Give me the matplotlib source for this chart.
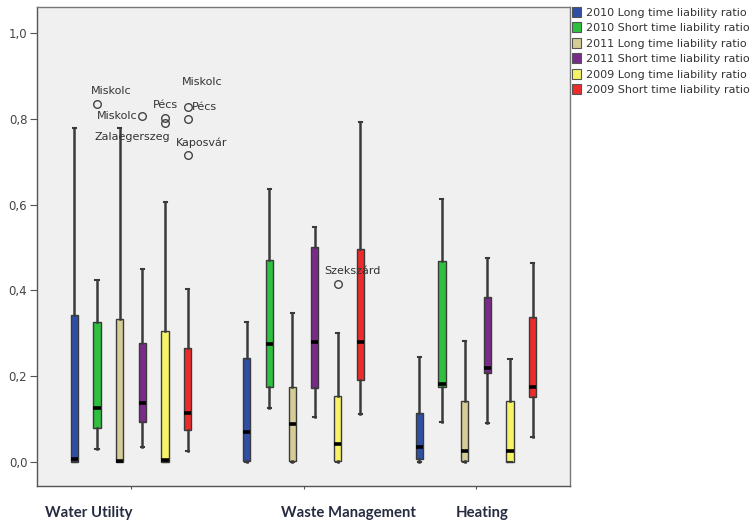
import matplotlib
matplotlib.use("Agg")
import matplotlib.pyplot as plt
from matplotlib.patches import Patch
import numpy as np

groups = ["Water Utility", "Waste Management", "Heating"]
series = ["2010 Long time liability ratio", "2010 Short time liability ratio",
          "2011 Long time liability ratio", "2011 Short time liability ratio",
          "2009 Long time liability ratio", "2009 Short time liability ratio"]
colors = ["#2F4FA6", "#2EC03E", "#D5CC96", "#7A2A88", "#F6F466", "#EE2B2B"]

# per series, one value per group (Water, Waste, Heating)
whis_lo = [[0.0, 0.0, 0.0], [0.030, 0.126, 0.093], [0.0, 0.0, 0.0],
           [0.035, 0.105, 0.091], [0.0, 0.0, 0.0], [0.026, 0.112, 0.058]]
q1 = [[0.0, 0.003, 0.008], [0.079, 0.175, 0.175], [0.0, 0.002, 0.002],
      [0.093, 0.172, 0.207], [0.0, 0.002, 0.0], [0.075, 0.191, 0.152]]
med = [[0.008, 0.070, 0.035], [0.126, 0.275, 0.182], [0.003, 0.089, 0.026],
       [0.137, 0.280, 0.219], [0.004, 0.042, 0.026], [0.114, 0.280, 0.175]]
q3 = [[0.343, 0.242, 0.114], [0.327, 0.471, 0.469], [0.333, 0.175, 0.142],
      [0.277, 0.501, 0.385], [0.305, 0.154, 0.142], [0.266, 0.496, 0.338]]
whis_hi = [[0.780, 0.326, 0.245], [0.424, 0.636, 0.613], [0.780, 0.347, 0.282],
           [0.450, 0.548, 0.475], [0.606, 0.301, 0.240], [0.403, 0.793, 0.464]]

# outliers: (series, group, value)
outliers = [(1, 0, 0.834), (3, 0, 0.806), (4, 0, 0.790), (4, 0, 0.801),
            (5, 0, 0.827), (5, 0, 0.800), (5, 0, 0.716), (4, 1, 0.415)]
# case labels: (series, group, value, name)
case_labels = [(1, 0, 0.834, "Miskolc"), (3, 0, 0.806, "Miskolc"),
               (2, 0, 0.780, "Zalaegerszeg"), (4, 0, 0.801, "Pécs"),
               (5, 0, 0.827, "Miskolc"), (5, 0, 0.800, "Pécs"),
               (5, 0, 0.716, "Kaposvár"), (4, 1, 0.415, "Szekszárd")]
# label placement (pixels, ha)
label_offsets = [(14, 13, "center"), (-5, 0, "right"), (13, -9, "center"),
                 (0, 13, "center"), (14, 25, "center"), (4, 12, "left"),
                 (14, 12, "center"), (15, 13, "center")]

step = 0.1316
box_w = 0.042

fig = plt.figure(figsize=(7.53, 5.22), dpi=100)
ax = fig.add_axes([37 / 753, 36 / 522, 533 / 753, 479 / 522])
ax.set_facecolor("#F0F0F0")

for s in range(len(series)):
    offs = (s - 2.5) * step
    stats = []
    for g in range(len(groups)):
        fl = [v for (si, gi, v) in outliers if si == s and gi == g]
        stats.append(dict(whislo=whis_lo[s][g], q1=q1[s][g], med=med[s][g],
                          q3=q3[s][g], whishi=whis_hi[s][g], fliers=fl))
    pos = [g + offs for g in range(len(groups))]
    ax.bxp(stats, positions=pos, widths=box_w, capwidths=0.018,
           patch_artist=True, manage_ticks=False,
           boxprops=dict(facecolor=colors[s], edgecolor="#3a3a3a", linewidth=1.0),
           medianprops=dict(color="black", linewidth=2.6),
           whiskerprops=dict(color="#3a3a3a", linewidth=1.8),
           capprops=dict(color="#3a3a3a", linewidth=1.5),
           flierprops=dict(marker="o", markerfacecolor="none",
                           markeredgecolor="#444444", markersize=5.5,
                           markeredgewidth=1.0))

for (s, g, v, name), (dx, dy, ha) in zip(case_labels, label_offsets):
    x = g + (s - 2.5) * step
    ax.annotate(name, xy=(x, v), xytext=(dx, dy), textcoords="offset pixels",
                ha=ha, va="center", fontsize=8, color="#333333",
                family="DejaVu Sans")

ax.set_xlim(-0.545, 2.545)
ax.set_ylim(-0.056, 1.061)
ax.set_yticks(np.arange(0, 1.01, 0.2))
ax.set_yticklabels([f"{t:.1f}".replace(".", ",") for t in np.arange(0, 1.01, 0.2)],
                   fontsize=8.5, color="#444444", family="DejaVu Sans")
ax.set_xticks(range(len(groups)))
ax.set_xticklabels([])
ax.tick_params(axis="x", length=2, color="#555555")
ax.tick_params(axis="y", length=5, color="#555555", pad=2)
for sp in ax.spines.values():
    sp.set_color("#777777")
    sp.set_linewidth(1.0)
ax.spines["left"].set_color("#555555")
ax.spines["bottom"].set_color("#555555")

label_x = [-0.5, 0.87, 1.88]
for g, name in enumerate(groups):
    ax.text(label_x[g], -0.057, name, transform=ax.get_xaxis_transform(),
            ha="left", va="center", fontsize=10.7, fontweight="bold",
            color="#262B40", family="Lato")

handles = [Patch(facecolor=c, edgecolor="#555555", linewidth=0.8) for c in colors]
fig.legend(handles, series, loc="upper left", bbox_to_anchor=(572 / 753, 1 - 7 / 522),
           frameon=False, handlelength=0.8, handleheight=1.0,
           handletextpad=0.5, labelspacing=0.42, borderaxespad=0, borderpad=0,
           labelcolor="#333333", prop=dict(family="DejaVu Sans", size=8))

fig.savefig("out.png", dpi=100)
